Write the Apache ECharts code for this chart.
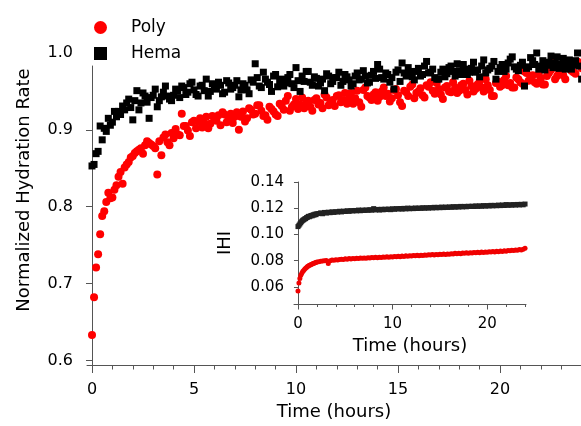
<!DOCTYPE html>
<html><head><meta charset="utf-8">
<script src="https://cdn.jsdelivr.net/npm/echarts@6/dist/echarts.min.js"></script>
<style>html,body{margin:0;padding:0;background:#fff}#c{width:581px;height:426px}</style>
</head><body><div id="c"></div>
<script>
// time points (hours), set A
const hours = [0,0.1,0.2,0.3,0.4,0.5,0.6,0.7,0.8,0.9,1.0,1.1,1.2,1.3,1.4,1.5,1.6,1.7,1.8,1.9,2.0,
2.2,2.4,2.6,2.8,3.0,3.2,3.4,3.6,3.8,4.0,4.2,4.4,4.6,4.8,5.0,5.2,5.4,5.6,5.8,6.0,
6.2,6.4,6.6,6.8,7.0,7.2,7.4,7.6,7.8,8.0,8.2,8.4,8.6,8.8,9.0,9.2,9.4,9.6,9.8,10.0,
10.2,10.4,10.6,10.8,11.0,11.2,11.4,11.6,11.8,12.0,12.2,12.4,12.6,12.8,13.0,13.2,13.4,13.6,13.8,14.0,
14.2,14.4,14.6,14.8,15.0,15.2,15.4,15.6,15.8,16.0,16.2,16.4,16.6,16.8,17.0,17.2,17.4,17.6,17.8,18.0,
18.2,18.4,18.6,18.8,19.0,19.2,19.4,19.6,19.8,20.0,20.2,20.4,20.6,20.8,21.0,21.2,21.4,21.6,21.8,22.0,
22.2,22.4,22.6,22.8,23.0,23.2,23.4,23.6,23.8,24.0];

// time points (hours), set B (in between set A, main plot only)
const hoursB = [2.1,2.3,2.5,2.7,2.9,3.1,3.3,3.5,3.7,3.9,4.1,4.3,4.5,4.7,4.9,5.1,5.3,5.5,5.7,5.9,
6.1,6.3,6.5,6.7,6.9,7.1,7.3,7.5,7.7,7.9,8.1,8.3,8.5,8.7,8.9,9.1,9.3,9.5,9.7,9.9,
10.1,10.3,10.5,10.7,10.9,11.1,11.3,11.5,11.7,11.9,12.1,12.3,12.5,12.7,12.9,13.1,13.3,13.5,13.7,13.9,
14.1,14.3,14.5,14.7,14.9,15.1,15.3,15.5,15.7,15.9,16.1,16.3,16.5,16.7,16.9,17.1,17.3,17.5,17.7,17.9,
18.1,18.3,18.5,18.7,18.9,19.1,19.3,19.5,19.7,19.9,20.1,20.3,20.5,20.7,20.9,21.1,21.3,21.5,21.7,21.9,
22.1,22.3,22.5,22.7,22.9,23.1,23.3,23.5,23.7,23.9];

// main plot: normalized hydration rate
const polyRate = [0.633,0.682,0.721,0.738,0.764,0.788,0.794,0.806,0.818,0.811,0.812,0.822,0.828,0.839,0.845,0.830,0.851,0.855,0.858,0.864,0.866,
0.872,0.876,0.880,0.883,0.879,0.842,0.867,0.894,0.880,0.889,0.894,0.921,0.905,0.892,0.912,0.911,0.903,0.917,0.908,0.913,
0.919,0.923,0.910,0.921,0.917,0.900,0.924,0.915,0.926,0.921,0.932,0.918,0.913,0.927,0.920,0.934,0.926,0.944,0.930,0.940,
0.933,0.928,0.938,0.925,0.941,0.935,0.946,0.932,0.939,0.944,0.936,0.948,0.940,0.934,0.951,0.930,0.955,0.942,0.946,0.938,
0.950,0.944,0.937,0.952,0.945,0.931,0.949,0.956,0.941,0.950,0.945,0.958,0.962,0.947,0.953,0.940,0.957,0.949,0.955,0.951,
0.960,0.946,0.957,0.953,0.963,0.950,0.958,0.944,0.961,0.956,0.965,0.958,0.955,0.968,0.962,0.976,0.964,0.971,0.960,0.967,
0.959,0.974,0.987,0.970,0.978,0.966,0.982,0.975,0.989,0.980];

const polyRateB = [0.870,0.874,0.869,0.885,0.881,0.876,0.885,0.890,0.884,0.896,0.901,0.893,0.905,0.899,0.910,0.902,0.915,0.909,0.902,0.918,
0.912,0.906,0.920,0.915,0.909,0.923,0.917,0.911,0.928,0.920,0.932,0.925,0.919,0.930,0.924,0.918,0.931,0.938,0.925,0.933,
0.927,0.942,0.935,0.930,0.939,0.933,0.928,0.942,0.937,0.931,0.945,0.939,0.934,0.948,0.941,0.936,0.952,0.944,0.939,0.949,
0.943,0.955,0.947,0.941,0.953,0.936,0.951,0.944,0.959,0.948,0.954,0.942,0.956,0.951,0.961,0.946,0.955,0.950,0.962,0.948,
0.958,0.952,0.964,0.950,0.959,0.955,0.966,0.952,0.944,0.963,0.958,0.970,0.961,0.955,0.966,0.960,0.974,0.967,0.962,0.972,
0.959,0.970,0.978,0.966,0.975,0.971,0.989,0.977,0.973,0.984];

const hemaRate = [0.853,0.855,0.869,0.872,0.905,0.887,0.902,0.898,0.915,0.906,0.910,0.924,0.917,0.924,0.920,0.931,0.926,0.935,0.940,0.929,0.913,
0.951,0.935,0.944,0.915,0.945,0.930,0.943,0.957,0.940,0.945,0.951,0.957,0.946,0.960,0.952,0.944,0.958,0.966,0.950,0.955,
0.962,0.947,0.964,0.953,0.958,0.943,0.960,0.952,0.965,0.986,0.957,0.975,0.962,0.950,0.972,0.963,0.957,0.968,0.960,0.981,
0.950,0.963,0.976,0.958,0.967,0.961,0.951,0.970,0.963,0.968,0.958,0.972,0.965,0.960,0.974,0.966,0.970,0.962,0.976,0.985,
0.968,0.974,0.962,0.953,0.978,0.987,0.970,0.976,0.965,0.980,0.972,0.989,0.975,0.968,0.966,0.979,0.973,0.983,0.970,0.977,
0.985,0.972,0.980,0.975,0.969,0.991,0.978,0.983,0.966,0.981,0.976,0.987,0.995,0.979,0.984,0.957,0.982,0.990,1.000,0.983,
0.978,0.988,0.981,0.995,0.986,0.979,0.991,0.984,1.000,0.966];

const hemaRateB = [0.938,0.926,0.948,0.936,0.942,0.953,0.938,0.949,0.944,0.938,0.953,0.942,0.955,0.949,0.962,0.946,0.957,0.951,0.944,0.960,
0.953,0.958,0.949,0.961,0.955,0.964,0.952,0.958,0.947,0.962,0.968,0.955,0.966,0.959,0.970,0.956,0.966,0.961,0.972,0.955,
0.964,0.970,0.976,0.962,0.969,0.957,0.966,0.973,0.960,0.968,0.975,0.963,0.969,0.957,0.970,0.965,0.977,0.961,0.971,0.967,
0.979,0.966,0.972,0.968,0.975,0.963,0.974,0.981,0.969,0.976,0.970,0.983,0.974,0.979,0.966,0.975,0.969,0.981,0.976,0.986,
0.972,0.979,0.975,0.988,0.978,0.983,0.974,0.980,0.989,0.976,0.985,0.979,0.992,0.982,0.977,0.988,0.980,0.994,0.985,0.979,
0.990,0.984,0.996,0.987,0.980,0.993,0.985,0.979,0.990,0.983];

// inset: IHI
const hemaIHI = [0.1060,0.1070,0.1080,0.1090,0.1100,0.1108,0.1112,0.1118,0.1121,0.1128,0.1131,0.1138,0.1135,0.1141,0.1145,0.1142,0.1150,0.1148,0.1155,0.1151,0.1158,
0.1160,0.1165,0.1158,0.1168,0.1163,0.1170,0.1166,0.1173,0.1168,0.1174,0.1171,0.1177,0.1172,0.1178,0.1175,0.1181,0.1176,0.1182,0.1179,0.1183,
0.1180,0.1186,0.1181,0.1186,0.1183,0.1187,0.1184,0.1189,0.1185,0.1197,0.1187,0.1191,0.1186,0.1192,0.1188,0.1193,0.1190,0.1194,0.1189,0.1196,
0.1192,0.1197,0.1194,0.1198,0.1193,0.1199,0.1195,0.1201,0.1196,0.1200,0.1197,0.1202,0.1198,0.1202,0.1199,0.1204,0.1200,0.1204,0.1201,0.1205,
0.1202,0.1207,0.1203,0.1207,0.1204,0.1209,0.1205,0.1209,0.1206,0.1210,0.1207,0.1212,0.1208,0.1212,0.1209,0.1214,0.1210,0.1214,0.1211,0.1215,
0.1213,0.1216,0.1213,0.1218,0.1214,0.1218,0.1215,0.1220,0.1216,0.1220,0.1217,0.1222,0.1218,0.1222,0.1219,0.1224,0.1220,0.1225,0.1221,0.1228,
0.1222,0.1227,0.1223,0.1228,0.1224,0.1229,0.1225,0.1230,0.1226,0.1232];

const polyIHI = [0.0570,0.0630,0.0665,0.0690,0.0705,0.0718,0.0725,0.0735,0.0742,0.0748,0.0755,0.0760,0.0765,0.0768,0.0772,0.0775,0.0778,0.0780,0.0784,0.0786,0.0790,
0.0792,0.0795,0.0797,0.0799,0.0801,0.0778,0.0800,0.0805,0.0803,0.0808,0.0806,0.0810,0.0812,0.0809,0.0814,0.0812,0.0816,0.0813,0.0817,0.0815,
0.0819,0.0816,0.0820,0.0818,0.0821,0.0819,0.0823,0.0820,0.0824,0.0822,0.0826,0.0823,0.0827,0.0824,0.0828,0.0826,0.0830,0.0827,0.0831,0.0829,
0.0833,0.0830,0.0834,0.0831,0.0835,0.0833,0.0837,0.0834,0.0838,0.0836,0.0840,0.0837,0.0841,0.0838,0.0842,0.0840,0.0844,0.0841,0.0845,0.0843,
0.0847,0.0844,0.0848,0.0845,0.0850,0.0847,0.0851,0.0848,0.0852,0.0850,0.0854,0.0851,0.0856,0.0853,0.0857,0.0854,0.0858,0.0856,0.0860,0.0857,
0.0861,0.0858,0.0863,0.0860,0.0864,0.0861,0.0866,0.0863,0.0867,0.0864,0.0869,0.0866,0.0870,0.0867,0.0872,0.0869,0.0874,0.0871,0.0876,0.0873,
0.0878,0.0875,0.0880,0.0877,0.0882,0.0879,0.0885,0.0882,0.0888,0.0895];

const mainXLabels = [0,5,10,15,20];
const mainXMinor = [0,1,2,3,4,5,6,7,8,9,10,11,12,13,14,15,16,17,18,19,20,21,22,23];
const mainYLabels = [0.6,0.7,0.8,0.9,1.0];
const mainYTicks = [0.6,0.7,0.8,0.9];
const insetXLabels = [0,10,20];
const insetXMinor = [0,2,4,6,8,10,12,14,16,18,20,22,24];
const insetYLabels = [0.06,0.08,0.10,0.12,0.14];

const FONT = 'DejaVu Sans';
const AX = '#555';
const pairs = (xs, ys) => xs.map((x, i) => [x, ys[i]]);

const chart = echarts.init(document.getElementById('c'), null, {renderer: 'canvas'});
chart.setOption({
  animation: false,
  backgroundColor: '#fff',
  textStyle: {fontFamily: FONT, color: '#000'},
  legend: {
    data: ['Poly', 'Hema'], orient: 'vertical', left: 94, top: 19, padding: 0,
    itemWidth: 13, itemHeight: 13, itemGap: 9,
    textStyle: {fontFamily: FONT, fontSize: 17, color: '#000', padding: [0, 0, 0, 19]}
  },
  grid: [
    {left: 87, right: 0, top: 53, bottom: 54},
    {left: 87, right: 0, top: 66, bottom: 54},
    {left: 294, width: 232, top: 182, height: 122}
  ],
  xAxis: [
    {gridIndex: 0, type: 'value', min: -0.245, max: 23.97,
     axisLine: {lineStyle: {color: AX, width: 1}},
     axisTick: {show: true, customValues: mainXMinor, length: 4.5, lineStyle: {color: AX}},
     axisLabel: {customValues: mainXLabels, fontFamily: FONT, fontSize: 16, color: '#000', margin: 17},
     splitLine: {show: false},
     name: 'Time (hours)', nameLocation: 'middle', nameGap: 38,
     nameTextStyle: {fontFamily: FONT, fontSize: 18, color: '#000'}},
    {gridIndex: 0, type: 'value', min: -0.245, max: 23.97, position: 'bottom',
     axisLine: {show: false},
     axisTick: {show: true, customValues: mainXLabels, length: 8, lineStyle: {color: AX}},
     axisLabel: {show: false}, splitLine: {show: false}},
    {gridIndex: 1, type: 'value', min: -0.245, max: 23.97, show: false},
    {gridIndex: 2, type: 'value', min: -0.42, max: 24.1,
     axisLine: {lineStyle: {color: AX, width: 1}},
     axisTick: {show: true, customValues: insetXMinor, length: 3, lineStyle: {color: AX}},
     axisLabel: {customValues: insetXLabels, fontFamily: FONT, fontSize: 15, color: '#000', margin: 13},
     splitLine: {show: false},
     name: 'Time (hours)', nameLocation: 'middle', nameGap: 33,
     nameTextStyle: {fontFamily: FONT, fontSize: 18, color: '#000'}},
    {gridIndex: 2, type: 'value', min: -0.42, max: 24.1, position: 'bottom',
     axisLine: {show: false},
     axisTick: {show: true, customValues: insetXLabels, length: 5.5, lineStyle: {color: AX}},
     axisLabel: {show: false}, splitLine: {show: false}}
  ],
  yAxis: [
    {gridIndex: 0, type: 'value', min: 0.594, max: 1.0,
     axisLine: {show: false},
     axisTick: {show: true, customValues: mainYTicks, length: 6, lineStyle: {color: AX}},
     axisLabel: {customValues: mainYLabels, formatter: v => v.toFixed(1), fontFamily: FONT, fontSize: 16, color: '#000', margin: 14},
     splitLine: {show: false}},
    {gridIndex: 1, type: 'value', min: 0.594, max: 0.9835,
     axisLine: {show: true, lineStyle: {color: AX, width: 1}},
     axisTick: {show: false}, axisLabel: {show: false}, splitLine: {show: false}},
    {gridIndex: 2, type: 'value', min: 0.047, max: 0.14,
     axisLine: {show: true, lineStyle: {color: AX, width: 1}},
     axisTick: {show: true, customValues: insetYLabels, length: 4, lineStyle: {color: AX}},
     axisLabel: {customValues: insetYLabels, formatter: v => v.toFixed(2), fontFamily: FONT, fontSize: 15, color: '#000', margin: 10},
     splitLine: {show: false},
     name: 'IHI', nameLocation: 'middle', nameGap: 60, nameRotate: 90,
     nameTextStyle: {fontFamily: FONT, fontSize: 18, color: '#000'}}
  ],
  graphic: [
    {type: 'text', x: 24, y: 190, rotation: Math.PI / 2,
     style: {text: 'Normalized Hydration Rate', fontFamily: FONT, fontSize: 18, fill: '#000', align: 'center', verticalAlign: 'middle'}}
  ],
  series: [
    {name: 'Poly', type: 'scatter', xAxisIndex: 0, yAxisIndex: 0, clip: false,
     symbol: 'circle', symbolSize: 8, itemStyle: {color: '#ff0000', opacity: 1},
     data: pairs(hours, polyRate).concat(pairs(hoursB, polyRateB))},
    {name: 'Hema', type: 'scatter', xAxisIndex: 0, yAxisIndex: 0, clip: false,
     symbol: 'rect', symbolSize: 7, itemStyle: {color: '#000000', opacity: 1},
     data: pairs(hours, hemaRate).concat(pairs(hoursB, hemaRateB))},
    {name: 'Poly IHI', type: 'scatter', xAxisIndex: 3, yAxisIndex: 2, clip: false,
     symbol: 'circle', symbolSize: 5, itemStyle: {color: '#f00000', opacity: 1},
     data: pairs(hours, polyIHI)},
    {name: 'Hema IHI', type: 'scatter', xAxisIndex: 3, yAxisIndex: 2, clip: false,
     symbol: 'rect', symbolSize: 5, itemStyle: {color: '#222222', opacity: 1},
     data: pairs(hours, hemaIHI)}
  ]
});
</script>
</body></html>
